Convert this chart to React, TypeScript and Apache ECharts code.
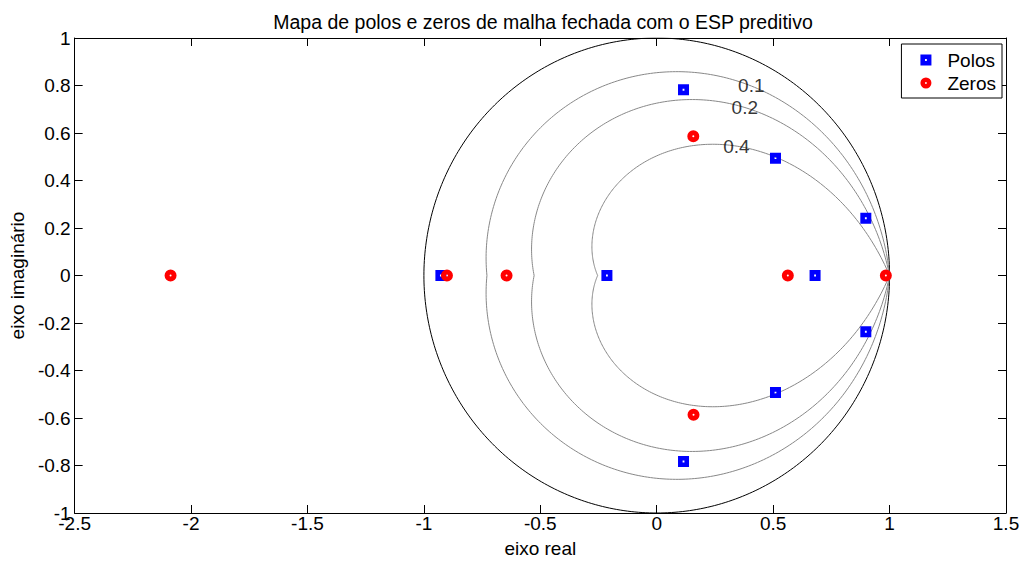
import React, { useEffect, useRef } from "react";
import * as echarts from "echarts";

// Poles (real, imag)
const poleRe = [0.115, 0.115, 0.51, 0.51, 0.898, 0.898, -0.927, -0.214, 0.68];
const poleIm = [0.782, -0.783, 0.494, -0.493, 0.241, -0.237, 0, 0, 0];
// Zeros (real, imag)
const zeroRe = [-2.088, -0.901, -0.645, 0.157, 0.158, 0.563, 0.984];
const zeroIm = [0, 0, 0, 0.586, -0.586, 0, 0];
// Damping ratio grid curves and the angle at which their label sits
const zetas = [0.1, 0.2, 0.4];
const zetaLabelAngle = [1.1, 1.08, 1.01];
const xMin = -2.5, xMax = 1.5, xStep = 0.5;
const yMin = -1, yMax = 1, yStep = 0.2;

const FONT = "Liberation Sans, Arial, Helvetica, sans-serif";

function zetaCurve(z: number): number[][] {
  const pts: number[][] = [];
  const n = 400;
  const k = z / Math.sqrt(1 - z * z);
  for (let i = 0; i <= n; i++) {
    const th = -Math.PI + (2 * Math.PI * i) / n;
    const r = Math.exp(-k * Math.abs(th));
    pts.push([r * Math.cos(th), r * Math.sin(th)]);
  }
  return pts;
}

function unitCircle(): number[][] {
  const pts: number[][] = [];
  const n = 400;
  for (let i = 0; i <= n; i++) {
    const th = (2 * Math.PI * i) / n;
    pts.push([Math.cos(th), Math.sin(th)]);
  }
  return pts;
}

const squareIcon = "path://M0,0H12V12H0Z M5,5V7H7V5Z";
const circleIcon =
  "path://M6,0A6,6 0 1,1 6,12A6,6 0 1,1 6,0Z M6,5A1,1 0 1,0 6,7A1,1 0 1,0 6,5Z";

export default function App() {
  const ref = useRef<HTMLDivElement>(null);
  useEffect(() => {
    if (!ref.current) return;
    const chart = echarts.init(ref.current, undefined, { renderer: "svg" });

    const axisCommon = {
      axisLine: { show: true, onZero: false, lineStyle: { color: "#000", width: 1 } },
      axisTick: { show: true, inside: true, length: 8, lineStyle: { color: "#000", width: 1 } },
      splitLine: { show: false },
    };

    const zetaSeries = zetas.map((z) => ({
      type: "line",
      data: zetaCurve(z),
      showSymbol: false,
      symbol: "none",
      lineStyle: { color: "#888888", width: 1 },
      silent: true,
      z: 1,
    }));

    const labelData = zetas.map((z, i) => {
      const k = z / Math.sqrt(1 - z * z);
      const th = zetaLabelAngle[i];
      const r = Math.exp(-k * th);
      return { name: String(z), value: [r * Math.cos(th), r * Math.sin(th)] };
    });

    const option: any = {
      animation: false,
      backgroundColor: "#fff",
      title: {
        text: "Mapa de polos e zeros de malha fechada com o ESP preditivo",
        left: 538,
        textAlign: "center",
        top: 7,
        textStyle: { fontFamily: FONT, fontSize: 19.5, fontWeight: "normal", color: "#000" },
      },
      legend: {
        data: ["Polos", "Zeros"],
        orient: "vertical",
        right: 23,
        top: 44,
        itemWidth: 11,
        itemHeight: 11,
        itemGap: 3,
        borderColor: "#000",
        borderWidth: 1,
        borderRadius: 0,
        backgroundColor: "#fff",
        padding: [6, 6, 5, 19],
        textStyle: {
          fontFamily: FONT,
          fontSize: 19,
          lineHeight: 20,
          color: "#000",
          padding: [0, 0, 0, 11],
        },
      },
      grid: { left: 71, right: 19, top: 38, bottom: 48, containLabel: false },
      xAxis: [
        {
          type: "value",
          min: xMin,
          max: xMax,
          interval: xStep,
          position: "bottom",
          name: "eixo real",
          nameLocation: "middle",
          nameGap: 26,
          nameTextStyle: { fontFamily: FONT, fontSize: 19, color: "#000" },
          axisLabel: { fontFamily: FONT, fontSize: 19, color: "#000", margin: 1 },
          ...axisCommon,
        },
        {
          type: "value",
          min: xMin,
          max: xMax,
          interval: xStep,
          position: "top",
          axisLabel: { show: false },
          ...axisCommon,
        },
      ],
      yAxis: [
        {
          type: "value",
          min: yMin,
          max: yMax,
          interval: yStep,
          position: "left",
          name: "eixo imaginário",
          nameLocation: "middle",
          nameGap: 41,
          nameRotate: 90,
          nameTextStyle: { fontFamily: FONT, fontSize: 19, color: "#000" },
          axisLabel: {
            fontFamily: FONT,
            fontSize: 19,
            color: "#000",
            margin: 4,
            formatter: (v: number) => String(Math.round(v * 10) / 10),
          },
          ...axisCommon,
        },
        {
          type: "value",
          min: yMin,
          max: yMax,
          interval: yStep,
          position: "right",
          axisLabel: { show: false },
          ...axisCommon,
        },
      ],
      series: [
        {
          type: "line",
          data: unitCircle(),
          showSymbol: false,
          symbol: "none",
          lineStyle: { color: "#000", width: 1 },
          silent: true,
          z: 1,
        },
        ...zetaSeries,
        {
          type: "scatter",
          data: labelData,
          symbolSize: 0,
          silent: true,
          label: {
            show: true,
            position: "inside",
            formatter: "{b}",
            fontFamily: FONT,
            fontSize: 19,
            color: "#000",
            textBorderWidth: 0,
            textBorderColor: "transparent",
          },
          z: 2,
        },
        {
          name: "Polos",
          type: "scatter",
          data: poleRe.map((x, i) => [x, poleIm[i]]),
          symbol: squareIcon,
          symbolSize: 11,
          itemStyle: { color: "#0000ff", opacity: 1 },
          z: 3,
        },
        {
          name: "Zeros",
          type: "scatter",
          data: zeroRe.map((x, i) => [x, zeroIm[i]]),
          symbol: circleIcon,
          symbolSize: 12,
          itemStyle: { color: "#ff0000", opacity: 1 },
          z: 4,
        },
      ],
    };
    chart.setOption(option);
    return () => chart.dispose();
  }, []);
  return (
    <div
      ref={ref}
      style={{ position: "fixed", left: 0, top: 0, width: 1025, height: 563 }}
    />
  );
}
